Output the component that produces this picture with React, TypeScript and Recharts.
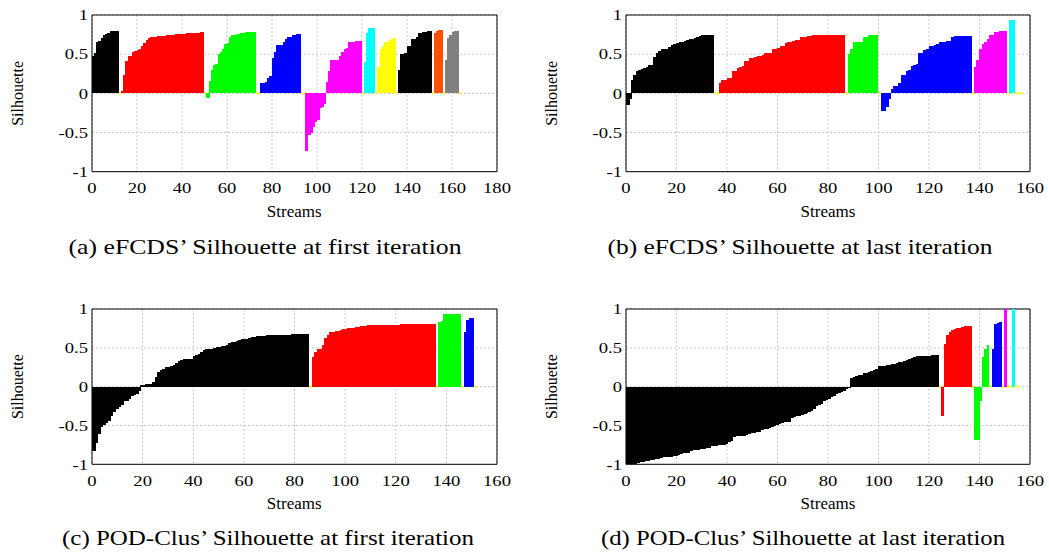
import React from 'react';
import { BarChart, Bar, XAxis, YAxis, CartesianGrid, ReferenceArea } from 'recharts';

// ---------- colours ----------
const PALETTE: Record<string, string> = {
  black: '#000000',
  red: '#ff0000',
  green: '#00ff00',
  blue: '#0000ff',
  magenta: '#ff00ff',
  cyan: '#00ffff',
  yellow: '#ffff00',
  orange: '#ff5000',
  grey: '#808080',
  gap: '#ffff00',
};

// ---------- tick labels ----------
const xTicks180 = [0, 20, 40, 60, 80, 100, 120, 140, 160, 180];
const xTicks160 = [0, 20, 40, 60, 80, 100, 120, 140, 160];
const yTicks = [-1, -0.5, 0, 0.5, 1];

// gap separators (zero silhouette)
const G1 = [0];
const G2 = [0, 0];
const G3 = [0, 0, 0];

// ---------- (a) eFCDS first iteration ----------
const aBlack1 = [0.48, 0.51, 0.66, 0.67, 0.71, 0.75, 0.76, 0.77, 0.8, 0.8, 0.8, 0.8];
const aRed = [0.03, 0.23, 0.41, 0.48, 0.48, 0.53, 0.54, 0.55, 0.56, 0.6, 0.64, 0.68, 0.71, 0.72, 0.72, 0.72, 0.73, 0.73, 0.73, 0.73, 0.74, 0.74, 0.75, 0.75, 0.76, 0.76, 0.76, 0.76, 0.76, 0.77, 0.77, 0.77, 0.77, 0.775, 0.775, 0.78, 0.78];
const aGreen = [-0.06, 0.16, 0.3, 0.36, 0.38, 0.5, 0.53, 0.56, 0.63, 0.64, 0.72, 0.74, 0.75, 0.76, 0.76, 0.77, 0.77, 0.78, 0.78, 0.78, 0.78, 0.78];
const aBlue = [0.13, 0.13, 0.15, 0.19, 0.22, 0.45, 0.53, 0.62, 0.62, 0.62, 0.65, 0.7, 0.72, 0.72, 0.745, 0.745, 0.76, 0.76];
const aMagenta = [-0.73, -0.53, -0.51, -0.43, -0.36, -0.34, -0.19, -0.17, -0.13, 0.15, 0.28, 0.42, 0.42, 0.42, 0.43, 0.48, 0.53, 0.56, 0.58, 0.65, 0.65, 0.66, 0.665, 0.67, 0.67];
const aCyan = [0.4, 0.77, 0.83, 0.83, 0.83];
const aYellow = [0.33, 0.56, 0.6, 0.65, 0.66, 0.68, 0.7, 0.71];
const aBlack2 = [0.3, 0.5, 0.5, 0.52, 0.6, 0.61, 0.69, 0.7, 0.72, 0.77, 0.77, 0.78, 0.78, 0.79, 0.79];
const aOrange = [0.77, 0.8, 0.81, 0.81];
const aGrey = [0.42, 0.71, 0.74, 0.78, 0.79, 0.79];

// ---------- (b) eFCDS last iteration ----------
const bBlack = [-0.15, -0.07, 0.17, 0.23, 0.28, 0.3, 0.31, 0.32, 0.34, 0.36, 0.36, 0.47, 0.52, 0.54, 0.56, 0.57, 0.57, 0.59, 0.62, 0.63, 0.64, 0.65, 0.66, 0.67, 0.68, 0.69, 0.7, 0.71, 0.72, 0.73, 0.74, 0.74, 0.74, 0.74, 0.74];
const bRed = [0.13, 0.17, 0.17, 0.2, 0.2, 0.28, 0.28, 0.32, 0.33, 0.35, 0.41, 0.41, 0.45, 0.45, 0.47, 0.48, 0.48, 0.49, 0.51, 0.51, 0.52, 0.57, 0.57, 0.58, 0.6, 0.6, 0.64, 0.65, 0.66, 0.67, 0.68, 0.68, 0.72, 0.72, 0.72, 0.73, 0.73, 0.74, 0.74, 0.74, 0.74, 0.74, 0.74, 0.75, 0.75, 0.75, 0.75, 0.75, 0.75, 0.75];
const bGreen = [0.5, 0.56, 0.65, 0.65, 0.65, 0.65, 0.72, 0.72, 0.75, 0.75, 0.75, 0.75];
const bBlue = [-0.22, -0.22, -0.18, -0.07, 0.06, 0.09, 0.1, 0.13, 0.23, 0.24, 0.28, 0.3, 0.35, 0.36, 0.38, 0.51, 0.52, 0.55, 0.57, 0.6, 0.61, 0.62, 0.63, 0.65, 0.65, 0.66, 0.67, 0.67, 0.72, 0.73, 0.73, 0.73, 0.73, 0.73, 0.73, 0.73];
const bMagenta = [0.34, 0.43, 0.57, 0.63, 0.66, 0.69, 0.74, 0.74, 0.78, 0.78, 0.79, 0.79, 0.79];
const bCyan = [0.93, 0.94];

// ---------- (c) POD-Clus first iteration ----------
const cBlackNeg = [-0.83, -0.72, -0.61, -0.52, -0.5, -0.47, -0.44, -0.38, -0.33, -0.29, -0.26, -0.24, -0.19, -0.18, -0.16, -0.12, -0.11, -0.09, -0.05];
const cBlackPos = [0.02, 0.02, 0.03, 0.035, 0.04, 0.065, 0.13, 0.185, 0.22, 0.23, 0.25, 0.25, 0.27, 0.28, 0.3, 0.33, 0.34, 0.35, 0.36, 0.36, 0.36, 0.4, 0.41, 0.42, 0.44, 0.47, 0.48, 0.49, 0.49, 0.5, 0.51, 0.51, 0.52, 0.52, 0.53, 0.56, 0.57, 0.58, 0.59, 0.6, 0.61, 0.61, 0.62, 0.63, 0.64, 0.645, 0.65, 0.65, 0.65, 0.655, 0.66, 0.66, 0.66, 0.66, 0.665, 0.665, 0.67, 0.67, 0.67, 0.67, 0.675, 0.675, 0.68, 0.68, 0.68, 0.68, 0.68];
const cRed = [0.38, 0.45, 0.48, 0.48, 0.54, 0.63, 0.67, 0.7, 0.71, 0.72, 0.72, 0.73, 0.74, 0.745, 0.75, 0.75, 0.76, 0.765, 0.77, 0.775, 0.78, 0.785, 0.79, 0.79, 0.79, 0.79, 0.79, 0.79, 0.79, 0.8, 0.8, 0.8, 0.8, 0.8, 0.8, 0.81, 0.81, 0.81, 0.81, 0.81, 0.81, 0.81, 0.81, 0.81, 0.81, 0.81, 0.81, 0.81, 0.81];
const cGreen = [0.83, 0.84, 0.93, 0.93, 0.94, 0.94, 0.94, 0.94, 0.94];
const cBlue = [0.71, 0.86, 0.88, 0.88];

// ---------- (d) POD-Clus last iteration ----------
const dBlackNeg = [-1, -1, -0.99, -0.99, -0.98, -0.97, -0.97, -0.96, -0.96, -0.95, -0.94, -0.93, -0.93, -0.92, -0.91, -0.91, -0.91, -0.9, -0.89, -0.89, -0.88, -0.87, -0.86, -0.86, -0.85, -0.83, -0.82, -0.82, -0.81, -0.8, -0.8, -0.79, -0.79, -0.77, -0.76, -0.76, -0.75, -0.75, -0.75, -0.74, -0.71, -0.7, -0.65, -0.64, -0.64, -0.63, -0.63, -0.62, -0.61, -0.6, -0.6, -0.59, -0.58, -0.56, -0.55, -0.54, -0.53, -0.52, -0.51, -0.5, -0.48, -0.47, -0.46, -0.46, -0.45, -0.4, -0.39, -0.38, -0.38, -0.37, -0.35, -0.34, -0.33, -0.31, -0.29, -0.25, -0.23, -0.22, -0.19, -0.17, -0.16, -0.13, -0.12, -0.1, -0.08, -0.07, -0.05, -0.03, -0.02];
const dBlackPos = [0.11, 0.13, 0.14, 0.15, 0.15, 0.17, 0.17, 0.19, 0.2, 0.22, 0.23, 0.26, 0.27, 0.27, 0.28, 0.28, 0.29, 0.29, 0.3, 0.32, 0.32, 0.33, 0.34, 0.35, 0.37, 0.38, 0.39, 0.39, 0.4, 0.4, 0.4, 0.4, 0.41, 0.41, 0.41];
const dRed = [-0.38, 0.55, 0.67, 0.71, 0.73, 0.74, 0.76, 0.76, 0.77, 0.775, 0.775, 0.775];
const dGreen = [-0.69, -0.69, -0.18, 0.38, 0.49, 0.53];
const dBlue = [0.49, 0.81, 0.82, 0.83];
const dMagenta = [1.0];
const dCyan = [1.0];

type Seg = [string, number[]];

const segsA: Seg[] = [
  ['black', aBlack1], ['gap', G1], ['red', aRed], ['gap', G1], ['green', aGreen], ['gap', G2],
  ['blue', aBlue], ['gap', G2], ['magenta', aMagenta], ['gap', G1], ['cyan', aCyan], ['gap', G1],
  ['yellow', aYellow], ['gap', G1], ['black', aBlack2], ['gap', G1], ['orange', aOrange], ['gap', G1],
  ['grey', aGrey], ['gap', G1],
];
const segsB: Seg[] = [
  ['black', bBlack], ['gap', G2], ['red', bRed], ['gap', G1], ['green', bGreen], ['gap', G1],
  ['blue', bBlue], ['gap', G1], ['magenta', bMagenta], ['gap', G1], ['cyan', bCyan], ['gap', G3],
];
const segsC: Seg[] = [
  ['black', cBlackNeg], ['black', cBlackPos], ['gap', G1], ['red', cRed], ['gap', G1],
  ['green', cGreen], ['gap', G1], ['blue', cBlue], ['gap', G1],
];
const segsD: Seg[] = [
  ['black', dBlackNeg], ['black', dBlackPos], ['gap', G1], ['red', dRed], ['gap', G1],
  ['green', dGreen], ['gap', G1], ['blue', dBlue], ['gap', G1], ['magenta', dMagenta], ['gap', G2],
  ['cyan', dCyan], ['gap', G2],
];

type Row = { x: number; v: number; k: string; next: string };
function buildRows(segs: Seg[]): Row[] {
  const rows: Row[] = [];
  segs.forEach(([k, vals]) => vals.forEach((v) => rows.push({ x: rows.length + 0.5, v, k, next: '' })));
  rows.forEach((r, i) => {
    r.next = i + 1 < rows.length ? rows[i + 1].k : '';
  });
  return rows;
}

const FONT = '"Liberation Serif", "Times New Roman", serif';
const TICK_FS = 15.5;
const TICK_SX = 1.2;

function SilBar(props: any) {
  const { x, y, width, height } = props;
  const row = props.payload ?? props;
  if (x == null || y == null || !row) return null;
  const xs = Number(x);
  const wd = Number(width);
  if (row.k === 'gap') {
    return <rect x={xs} y={y - 1} width={wd} height={2} fill={PALETTE.gap} />;
  }
  const h = Number(height) || 0;
  const top = Math.min(y, y + h);
  // snap to whole pixels; stretch into the following bar of the same cluster so no seams appear
  const x0 = Math.floor(xs);
  const x1 = row.next === row.k ? Math.ceil(xs + wd) + 0.5 : Math.round(xs + wd);
  return (
    <rect
      x={x0}
      y={top}
      width={Math.max(1, x1 - x0)}
      height={Math.abs(h)}
      fill={PALETTE[row.k]}
      shapeRendering="crispEdges"
    />
  );
}

function XTick(props: any) {
  const { x, y, payload } = props;
  return (
    <g transform={`translate(${x},${y})`}>
      <text transform={`scale(${TICK_SX},1)`} textAnchor="middle" dy={10.5} fontFamily={FONT} fontSize={TICK_FS} fill="#000">
        {payload?.value}
      </text>
    </g>
  );
}

function YTick(props: any) {
  const { x, y, payload } = props;
  return (
    <g transform={`translate(${x},${y})`}>
      <text transform={`scale(${TICK_SX},1)`} textAnchor="end" dy={5.2} fontFamily={FONT} fontSize={TICK_FS} fill="#000">
        {payload?.value}
      </text>
    </g>
  );
}

type PanelDef = {
  id: string;
  rows: Row[];
  xMax: number;
  xTicks: number[];
  plotL: number;
  plotT: number;
  plotW: number;
  plotH: number;
  caption: string;
  capX: number;
  capY: number;
  capLen: number;
};

const Y_AXIS_W = 60;
const M_TOP = 10;
const M_RIGHT = 18;
const X_AXIS_H = 30;

const panels: PanelDef[] = [
  { id: 'a', rows: buildRows(segsA), xMax: 180, xTicks: xTicks180, plotL: 91.7, plotT: 15, plotW: 405, plotH: 156.7,
    caption: '(a) eFCDS\u2019 Silhouette at first iteration', capX: 265, capY: 253.5, capLen: 393 },
  { id: 'b', rows: buildRows(segsB), xMax: 160, xTicks: xTicks160, plotL: 626, plotT: 15, plotW: 404, plotH: 156.7,
    caption: '(b) eFCDS\u2019 Silhouette at last iteration', capX: 800, capY: 253.5, capLen: 385 },
  { id: 'c', rows: buildRows(segsC), xMax: 160, xTicks: xTicks160, plotL: 91.7, plotT: 309, plotW: 405, plotH: 155.3,
    caption: '(c) POD-Clus\u2019 Silhouette at first iteration', capX: 268, capY: 545, capLen: 412 },
  { id: 'd', rows: buildRows(segsD), xMax: 160, xTicks: xTicks160, plotL: 626, plotT: 309, plotW: 404, plotH: 155.3,
    caption: '(d) POD-Clus\u2019 Silhouette at last iteration', capX: 803, capY: 545, capLen: 404 },
];

function Panel({ p }: { p: PanelDef }) {
  const w = Y_AXIS_W + p.plotW + M_RIGHT;
  const h = M_TOP + p.plotH + X_AXIS_H;
  return (
    <div style={{ position: 'absolute', left: p.plotL - Y_AXIS_W, top: p.plotT - M_TOP, width: w, height: h }}>
      <BarChart
        width={w}
        height={h}
        data={p.rows}
        margin={{ top: M_TOP, right: M_RIGHT, left: 0, bottom: 0 }}
        barCategoryGap={0}
        barGap={0}
      >
        <CartesianGrid stroke="#c8c8c8" strokeDasharray="2 2" />
        <XAxis
          type="number"
          dataKey="x"
          domain={[0, p.xMax]}
          ticks={p.xTicks}
          interval={0}
          allowDataOverflow
          axisLine={false}
          tickLine={false}
          tickSize={0}
          tickMargin={11}
          height={X_AXIS_H}
          tick={<XTick />}
        />
        <YAxis
          type="number"
          domain={[-1, 1]}
          ticks={yTicks}
          interval={0}
          allowDataOverflow
          axisLine={false}
          tickLine={false}
          tickSize={0}
          tickMargin={4}
          width={Y_AXIS_W}
          tick={<YTick />}
        />
        <Bar dataKey="v" isAnimationActive={false} barSize={p.plotW / p.xMax} shape={SilBar} />
        <ReferenceArea x1={0} x2={p.xMax} y1={-1} y2={1} fill="none" fillOpacity={0} stroke="#000" strokeWidth={1} ifOverflow="visible" />
      </BarChart>
    </div>
  );
}

export default function App() {
  return (
    <div style={{ position: 'absolute', left: 0, top: 0, width: 1049, height: 556, background: '#fff', overflow: 'hidden' }}>
      {panels.map((p) => (
        <Panel key={p.id} p={p} />
      ))}
      <svg width={1049} height={556} style={{ position: 'absolute', left: 0, top: 0, pointerEvents: 'none' }}>
        {panels.map((p) => {
          const cy = p.plotT + p.plotH / 2;
          const tx = p.plotL - 68.5;
          return (
            <g key={p.id} fontFamily={FONT} fill="#000">
              <text x={tx} y={cy} fontSize={16} textAnchor="middle" transform={`rotate(-90 ${tx} ${cy})`}>
                Silhouette
              </text>
              <text x={p.plotL + p.plotW / 2} y={p.plotT + p.plotH + 45} fontSize={17} textAnchor="middle">
                Streams
              </text>
              <text x={p.capX} y={p.capY} fontSize={22} textAnchor="middle" textLength={p.capLen} lengthAdjust="spacingAndGlyphs">
                {p.caption}
              </text>
            </g>
          );
        })}
      </svg>
    </div>
  );
}
